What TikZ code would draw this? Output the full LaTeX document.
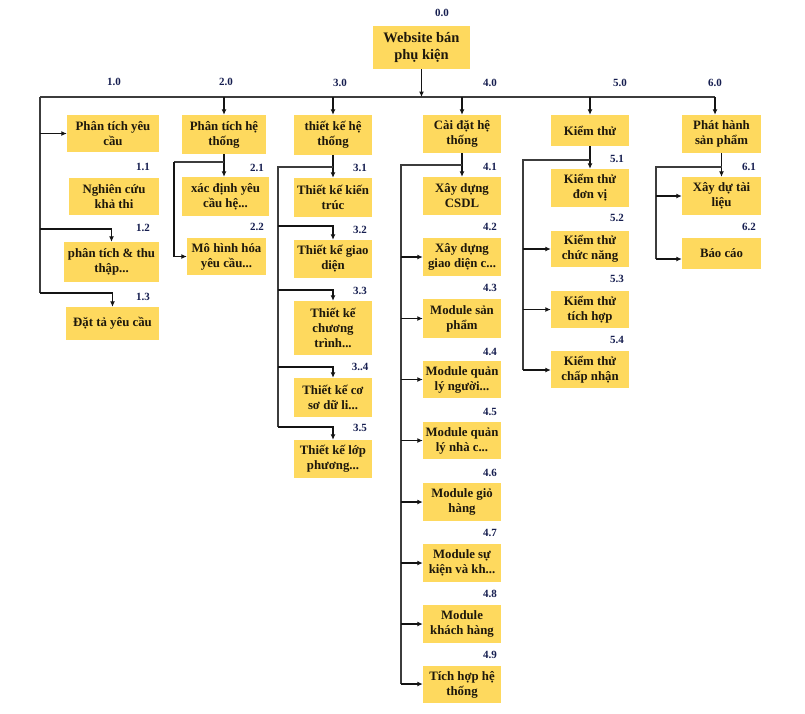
\documentclass[tikz,border=0pt]{standalone}
\usepackage{fontspec}
\setmainfont{Liberation Serif}
\usetikzlibrary{arrows.meta}
\definecolor{boxfill}{RGB}{254,217,94}
\definecolor{boxtext}{RGB}{30,24,12}
\definecolor{lbl}{RGB}{22,30,80}
\definecolor{linec}{RGB}{60,60,60}
\definecolor{arrc}{RGB}{20,20,20}
\tikzset{
  wbox/.style={fill=boxfill, draw=none, inner sep=0pt, align=center, text=boxtext,
    font=\bfseries\fontsize{12.8}{15}\selectfont},
  rootbox/.style={wbox, font=\bfseries\fontsize{14.5}{17}\selectfont},
  lab/.style={text=lbl, inner sep=0pt, font=\bfseries\fontsize{11}{13}\selectfont},
  conn/.style={draw=linec, line width=1.5pt},
  arr/.style={draw=arrc, line width=1.1pt, -{Latex[length=5.5pt,width=5pt]}}
}
\newcommand\wbox[7][wbox]{%
  \pgfmathsetmacro\wbcx{(#3+#5)/2}\pgfmathsetmacro\wbcy{(#4+#6)/2}%
  \pgfmathsetmacro\wbww{#5-#3}\pgfmathsetmacro\wbhh{#6-#4}%
  \node[#1, minimum width=\wbww pt, minimum height=\wbhh pt] (#2) at (\wbcx,\wbcy) {#7};}
\begin{document}
\begin{tikzpicture}[x=1pt,y=-1pt]
\useasboundingbox (0,0) rectangle (805,713);
\fill[white] (0,0) rectangle (805,713);
% boxes
\wbox[rootbox]{root}{373}{26}{470}{69}{Website bán\\phụ kiện}
\wbox{b10}{67}{115}{159}{152}{Phân tích yêu\\cầu}
\wbox{b11}{69}{178}{159}{215}{Nghiên cứu\\khả thi}
\wbox{b12}{64}{242}{159}{282}{phân tích \& thu\\thập...}
\wbox{b13}{66}{307}{159}{340}{Đặt tả yêu cầu}
\wbox{b20}{182}{115}{266}{154}{Phân tích hệ\\thống}
\wbox{b21}{182}{177}{269}{216}{xác định yêu\\cầu hệ...}
\wbox{b22}{187}{238}{266}{275}{Mô hình hóa\\yêu cầu...}
\wbox{b30}{294}{115}{372}{155}{thiết kế hệ\\thống}
\wbox{b31}{294}{178}{372}{217}{Thiết kế kiến\\trúc}
\wbox{b32}{294}{240}{372}{278}{Thiết kế giao\\diện}
\wbox{b33}{294}{301}{372}{355}{Thiết kế\\chương\\trình...}
\wbox{b34}{294}{378}{372}{417}{Thiết kế cơ\\sơ dữ li...}
\wbox{b35}{294}{440}{372}{478}{Thiết kế lớp\\phương...}
\wbox{b40}{423}{115}{501}{153}{Cài đặt hệ\\thống}
\wbox{b41}{423}{177}{501}{215}{Xây dựng\\CSDL}
\wbox{b42}{423}{238}{501}{276}{Xây dựng\\giao diện c...}
\wbox{b43}{423}{299}{501}{338}{Module sản\\phẩm}
\wbox{b44}{423}{361}{501}{398}{Module quản\\lý người...}
\wbox{b45}{423}{422}{501}{459}{Module quản\\lý nhà c...}
\wbox{b46}{423}{483}{501}{521}{Module giỏ\\hàng}
\wbox{b47}{423}{544}{501}{582}{Module sự\\kiện và kh...}
\wbox{b48}{423}{605}{501}{643}{Module\\khách hàng}
\wbox{b49}{423}{666}{501}{703}{Tích hợp hệ\\thống}
\wbox{b50}{551}{115}{629}{146}{Kiểm thử}
\wbox{b51}{551}{169}{629}{207}{Kiểm thử\\đơn vị}
\wbox{b52}{551}{231}{629}{267}{Kiểm thử\\chức năng}
\wbox{b53}{551}{291}{629}{328}{Kiểm thử\\tích hợp}
\wbox{b54}{551}{351}{629}{388}{Kiểm thử\\chấp nhận}
\wbox{b60}{682}{115}{761}{153}{Phát hành\\sản phẩm}
\wbox{b61}{682}{177}{761}{215}{Xây dự tài\\liệu}
\wbox{b62}{682}{238}{761}{269}{Báo cáo}
% labels
\node[lab] (l00) at (442,13) {0.0};
\node[lab] (l10) at (114,82) {1.0};
\node[lab] (l11) at (143,167) {1.1};
\node[lab] (l12) at (143,228) {1.2};
\node[lab] (l13) at (143,297) {1.3};
\node[lab] (l20) at (226,82) {2.0};
\node[lab] (l21) at (257,168) {2.1};
\node[lab] (l22) at (257,227) {2.2};
\node[lab] (l30) at (340,83) {3.0};
\node[lab] (l31) at (360,168) {3.1};
\node[lab] (l32) at (360,230) {3.2};
\node[lab] (l33) at (360,291) {3.3};
\node[lab] (l34) at (360,367) {3..4};
\node[lab] (l35) at (360,428) {3.5};
\node[lab] (l40) at (490,83) {4.0};
\node[lab] (l41) at (490,167) {4.1};
\node[lab] (l42) at (490,227) {4.2};
\node[lab] (l43) at (490,288) {4.3};
\node[lab] (l44) at (490,352) {4.4};
\node[lab] (l45) at (490,412) {4.5};
\node[lab] (l46) at (490,473) {4.6};
\node[lab] (l47) at (490,533) {4.7};
\node[lab] (l48) at (490,594) {4.8};
\node[lab] (l49) at (490,655) {4.9};
\node[lab] (l50) at (620,83) {5.0};
\node[lab] (l51) at (617,159) {5.1};
\node[lab] (l52) at (617,218) {5.2};
\node[lab] (l53) at (617,279) {5.3};
\node[lab] (l54) at (617,340) {5.4};
\node[lab] (l60) at (715,83) {6.0};
\node[lab] (l61) at (749,167) {6.1};
\node[lab] (l62) at (749,227) {6.2};
% bus
\coordinate (busL) at (40,97);
\coordinate (busR) at (715,97);
\draw[conn] (busL) -- (busR);
\draw[arr] (root.south) -- (root.south |- busL);
% column 1
\coordinate (c12) at (40,229);
\coordinate (c1b) at (40,293);
\draw[conn] (busL) -- (c1b);
\draw[arr] (busL |- b10.west) -- (b10.west);
\draw[arr] (c12) -| (b12.north);
\draw[arr] (c1b) -| (b13.north);
% column 2
\coordinate (j2) at (174,162);
\draw[arr] (b20.north |- busL) -- (b20.north);
\draw[arr] (b20.south) -- (b20.south |- b21.north);
\draw[conn] (j2 -| b20.south) -- (j2);
\draw[arr] (j2) |- (b22.west);
% column 3
\coordinate (j3) at (278,167);
\coordinate (j32) at (278,226);
\coordinate (j33) at (278,290);
\coordinate (j34) at (278,367);
\coordinate (j35) at (278,427);
\draw[arr] (b30.north |- busL) -- (b30.north);
\draw[arr] (b30.south) -- (b31.north);
\draw[conn] (j3 -| b30.south) -- (j3) -- (j35);
\draw[arr] (j32) -| (b32.north);
\draw[arr] (j33) -| (b33.north);
\draw[arr] (j34) -| (b34.north);
\draw[arr] (j35) -| (b35.north);
% column 4
\coordinate (j4) at (401,165);
\coordinate (j4e) at (401,684);
\draw[arr] (b40.north |- busL) -- (b40.north);
\draw[arr] (b40.south) -- (b41.north);
\draw[conn] (j4 -| b40.south) -- (j4) -- (j4e);
\foreach \k in {2,...,8} {\draw[arr] (j4 |- b4\k.west) -- (b4\k.west);}
\draw[arr] (j4e) -- (j4e -| b49.west);
% column 5
\coordinate (j5) at (523,160);
\coordinate (j5e) at (523,370);
\draw[arr] (b50.north |- busL) -- (b50.north);
\draw[arr] (b50.south) -- (b51.north);
\draw[conn] (j5 -| b50.south) -- (j5) -- (j5e);
\draw[arr] (j5 |- b52.west) -- (b52.west);
\draw[arr] (j5 |- b53.west) -- (b53.west);
\draw[arr] (j5e) -- (j5e -| b54.west);
% column 6
\coordinate (j6) at (656,167);
\coordinate (j6e) at (656,259);
\draw[arr] (busR) -- (busR |- b60.north);
\draw[arr] (b60.south) -- (b61.north);
\draw[conn] (j6 -| b60.south) -- (j6) -- (j6e);
\draw[arr] (j6 |- b61.west) -- (b61.west);
\draw[arr] (j6e) -- (j6e -| b62.west);
\end{tikzpicture}
\end{document}
